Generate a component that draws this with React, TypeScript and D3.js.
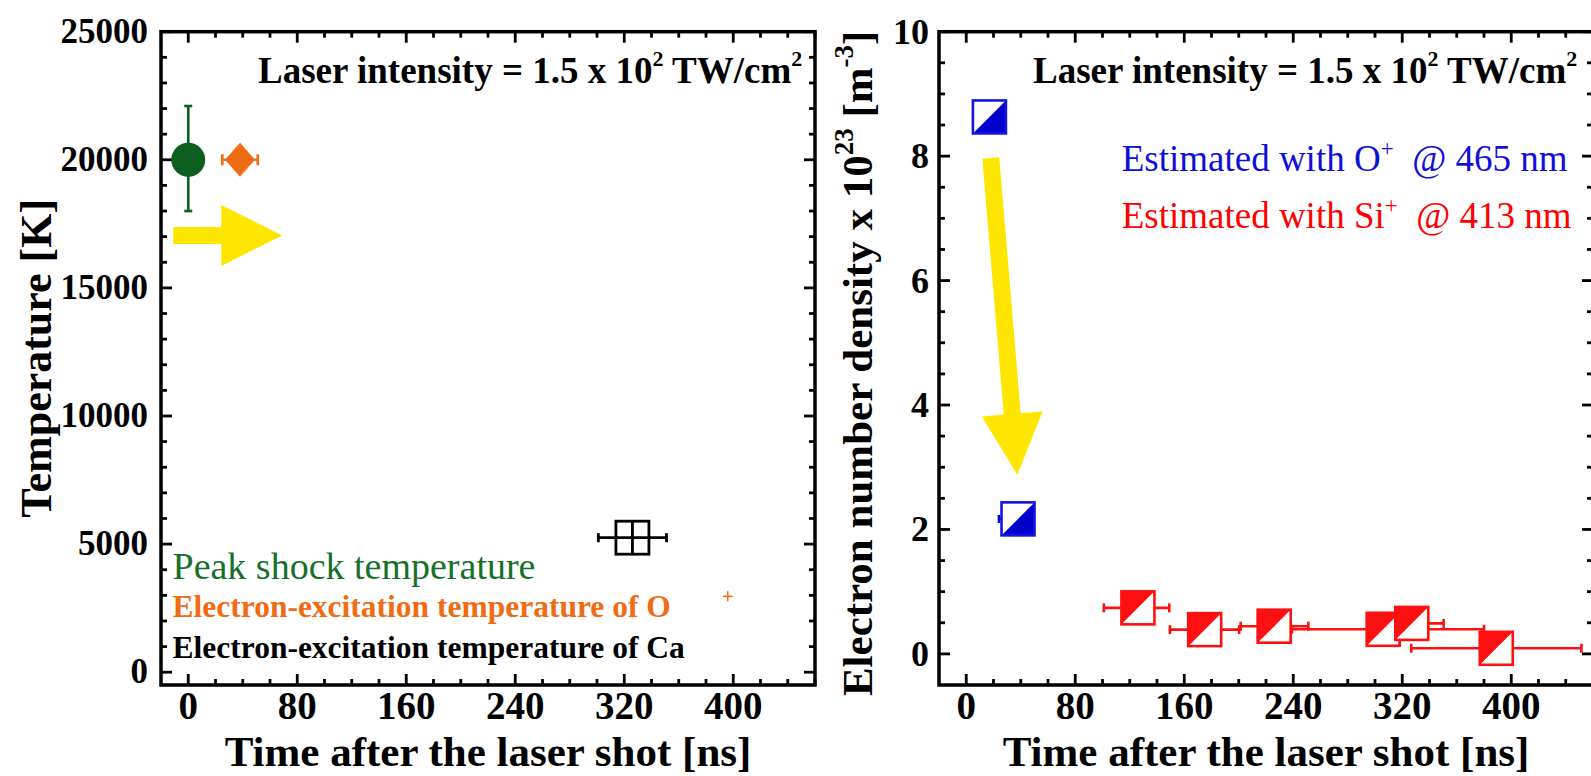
import React from "react";
import * as d3 from "d3";

// ---------- data ----------
const timeDomain: [number, number] = [-20, 460];
const timeTicks = [0, 80, 160, 240, 320, 400];
const tempDomain: [number, number] = [-500, 25000];
const tempTicks = [0, 5000, 10000, 15000, 20000, 25000];
const densDomain: [number, number] = [-0.5, 10];
const densTicks = [0, 2, 4, 6, 8, 10];

// left panel: temperatures
const peakTime = [0];
const peakTemp = [20000];
const peakTempErrLo = [2000];
const peakTempErrHi = [2100];

const oTime = [38];
const oTemp = [20000];
const oTimeErr = [13];

const caTime = [326];
const caTemp = [5250];
const caTimeErr = [25];

const oExtraTime = [396];
const oExtraTemp = [2960];

// right panel: electron density
const oIonTime = [17, 38];
const oIonDens = [8.63, 2.17];
const oIonErrLo = [0, 14];
const oIonErrHi = [0, 11];

const siIonTime = [126, 175, 226, 306, 327, 389];
const siIonDens = [0.74, 0.39, 0.445, 0.395, 0.49, 0.09];
const siIonErrLo = [25, 25.5, 24.6, 67, 23, 62.4];
const siIonErrHi = [23, 25.3, 25.1, 74, 23.4, 62.5];

// annotation arrows (data coordinates)
const leftArrow = { x1: -11, y1: 17050, x2: 69, y2: 17050 };
const rightArrow = { x1: 18, y1: 7.97, x2: 37.5, y2: 2.88 };

// ---------- styles ----------
const FONT = "'Liberation Serif', 'Times New Roman', Times, serif";
const GREEN = "#0c5f1f";
const GREEN_TXT = "#16702a";
const ORANGE = "#f06c14";
const BLUE = "#0000cc";
const BLUE_TXT = "#0f0fdc";
const RED = "#ff1010";
const YELLOW = "#ffe600";

const TOP = 31.7;
const BOTTOM = 685;
const LEFT = { x0: 161, x1: 815 };
const RIGHT = { x0: 939, x1: 1593 };

function arrowPath(ax: number, ay: number, bx: number, by: number) {
  const dx = bx - ax, dy = by - ay;
  const L = Math.hypot(dx, dy);
  const ux = dx / L, uy = dy / L;
  const nx = -uy, ny = ux;
  const shaft = 8.5, head = 30.5, headLen = 61;
  const hx = bx - ux * headLen, hy = by - uy * headLen;
  const pts = [
    [ax + nx * shaft, ay + ny * shaft],
    [hx + nx * shaft, hy + ny * shaft],
    [hx + nx * head, hy + ny * head],
    [bx, by],
    [hx - nx * head, hy - ny * head],
    [hx - nx * shaft, hy - ny * shaft],
    [ax - nx * shaft, ay - ny * shaft],
  ];
  return "M" + pts.map((p) => p.join(",")).join("L") + "Z";
}

function Frame({ x, y, minorX, minorY, majorX, majorY }: any) {
  const [x0, x1] = x.range();
  const [y1, y0] = y.range();
  const els: any[] = [];
  const MAJ = 11, MIN = 6;
  minorX.forEach((v: number, i: number) => {
    const px = x(v);
    const len = majorX(v) ? MAJ : MIN;
    els.push(<line key={"bx" + i} x1={px} x2={px} y1={y1} y2={y1 - len} />);
    els.push(<line key={"tx" + i} x1={px} x2={px} y1={y0} y2={y0 + len} />);
  });
  minorY.forEach((v: number, i: number) => {
    const py = y(v);
    const len = majorY(v) ? MAJ : MIN;
    els.push(<line key={"ly" + i} x1={x0} x2={x0 + len} y1={py} y2={py} />);
    els.push(<line key={"ry" + i} x1={x1} x2={x1 - len} y1={py} y2={py} />);
  });
  return (
    <g stroke="#000" strokeWidth={2.8}>
      {els}
      <rect x={x0} y={y0} width={x1 - x0} height={y1 - y0} fill="none" strokeWidth={3.5} />
    </g>
  );
}

function LaserText({ x }: { x: number }) {
  return (
    <text x={x} y={83} fontFamily={FONT} fontWeight="bold" fontSize={37} fill="#000">
      Laser intensity = 1.5 x 10
      <tspan dy={-17} fontSize={22}>2</tspan>
      <tspan dy={17}> TW/cm</tspan>
      <tspan dy={-17} fontSize={22}>2</tspan>
    </text>
  );
}

export default function App() {
  const xL = d3.scaleLinear().domain(timeDomain).range([LEFT.x0, LEFT.x1]);
  const xR = d3.scaleLinear().domain(timeDomain).range([RIGHT.x0, RIGHT.x1]);
  const yT = d3.scaleLinear().domain(tempDomain).range([BOTTOM, TOP]);
  const yD = d3.scaleLinear().domain(densDomain).range([BOTTOM, TOP]);

  const minorTime = d3.range(0, 461, 20);
  const minorTemp = d3.range(0, 25001, 1000);
  const minorDens = d3.range(0, 10.001, 0.5);

  const half = 16.5;

  return (
    <svg width={1591} height={776} style={{ position: "absolute", left: 0, top: 0, background: "#fff" }}>
      <rect width={1591} height={776} fill="#fff" />

      {/* ---------------- LEFT PANEL ---------------- */}
      <Frame
        x={xL}
        y={yT}
        minorX={minorTime}
        minorY={minorTemp}
        majorX={(v: number) => v % 80 === 0}
        majorY={(v: number) => v % 5000 === 0}
      />
      {tempTicks.map((v) => (
        <text key={"tl" + v} x={LEFT.x0 - 13} y={yT(v) + 11} textAnchor="end" fontFamily={FONT} fontWeight="bold" fontSize={35}>
          {v}
        </text>
      ))}
      {timeTicks.map((v) => (
        <text key={"xl" + v} x={xL(v)} y={719} textAnchor="middle" fontFamily={FONT} fontWeight="bold" fontSize={39}>
          {v}
        </text>
      ))}
      <text x={(LEFT.x0 + LEFT.x1) / 2} y={766} textAnchor="middle" fontFamily={FONT} fontWeight="bold" fontSize={43}>
        Time after the laser shot [ns]
      </text>
      <text
        transform={`translate(51,${(TOP + BOTTOM) / 2}) rotate(-90)`}
        textAnchor="middle"
        fontFamily={FONT}
        fontWeight="bold"
        fontSize={44}
      >
        Temperature [K]
      </text>
      <LaserText x={258} />

      {/* arrow */}
      <path d={arrowPath(xL(leftArrow.x1), yT(leftArrow.y1), xL(leftArrow.x2), yT(leftArrow.y2))} fill={YELLOW} />

      {/* peak shock temperature */}
      {peakTime.map((t, i) => {
        const cx = xL(t), cy = yT(peakTemp[i]);
        const yl = yT(peakTemp[i] - peakTempErrLo[i]), yh = yT(peakTemp[i] + peakTempErrHi[i]);
        return (
          <g key={"pk" + i}>
            <g stroke={GREEN} strokeWidth={2.6}>
              <line x1={cx} x2={cx} y1={yl} y2={yh} />
              <line x1={cx - 4} x2={cx + 4} y1={yl} y2={yl} />
              <line x1={cx - 4} x2={cx + 4} y1={yh} y2={yh} />
            </g>
            <circle cx={cx} cy={cy} r={17} fill={GREEN} />
          </g>
        );
      })}

      {/* O excitation temperature */}
      {oTime.map((t, i) => {
        const cx = xL(t), cy = yT(oTemp[i]);
        const xl = xL(t - oTimeErr[i]), xh = xL(t + oTimeErr[i]);
        return (
          <g key={"ot" + i}>
            <g stroke={ORANGE} strokeWidth={2.6}>
              <line x1={xl} x2={xh} y1={cy} y2={cy} />
              <line x1={xl} x2={xl} y1={cy - 5.5} y2={cy + 5.5} />
              <line x1={xh} x2={xh} y1={cy - 5.5} y2={cy + 5.5} />
            </g>
            <path d={`M${cx},${cy - 17}L${cx + 15},${cy}L${cx},${cy + 17}L${cx - 15},${cy}Z`} fill={ORANGE} />
            <line x1={cx + 1} y1={cy + 15} x2={cx + 13} y2={cy + 2} stroke="#f8a070" strokeWidth={1} />
          </g>
        );
      })}

      {/* Ca excitation temperature */}
      {caTime.map((t, i) => {
        const cx = xL(t), cy = yT(caTemp[i]);
        const xl = xL(t - caTimeErr[i]), xh = xL(t + caTimeErr[i]);
        return (
          <g key={"ca" + i} stroke="#000" strokeWidth={2.8}>
            <line x1={xl} x2={xh} y1={cy} y2={cy} />
            <line x1={xl} x2={xl} y1={cy - 4.5} y2={cy + 4.5} />
            <line x1={xh} x2={xh} y1={cy - 4.5} y2={cy + 4.5} />
            <rect x={cx - half} y={cy - half} width={half * 2} height={half * 2} fill="#fff" />
            <line x1={cx} x2={cx} y1={cy - half} y2={cy + half} />
            <line x1={cx - half} x2={cx + half} y1={cy} y2={cy} />
          </g>
        );
      })}

      {/* stray orange point */}
      {oExtraTime.map((t, i) => {
        const cx = xL(t), cy = yT(oExtraTemp[i]);
        return (
          <g key={"ox" + i} stroke={ORANGE} strokeWidth={1.5}>
            <line x1={cx - 5} x2={cx + 5} y1={cy} y2={cy} />
            <line x1={cx} x2={cx} y1={cy - 5} y2={cy + 5} />
          </g>
        );
      })}

      {/* legend text */}
      <text x={172.5} y={579} fontFamily={FONT} fontSize={38} fill={GREEN_TXT}>
        Peak shock temperature
      </text>
      <text x={172.5} y={617} fontFamily={FONT} fontWeight="bold" fontSize={31.5} fill={ORANGE}>
        Electron-excitation temperature of O
      </text>
      <text x={172.5} y={658} fontFamily={FONT} fontWeight="bold" fontSize={31.5} fill="#000">
        Electron-excitation temperature of Ca
      </text>

      {/* ---------------- RIGHT PANEL ---------------- */}
      <Frame
        x={xR}
        y={yD}
        minorX={minorTime}
        minorY={minorDens}
        majorX={(v: number) => v % 80 === 0}
        majorY={(v: number) => Math.abs(v % 2) < 1e-9}
      />
      {densTicks.map((v) => (
        <text key={"dl" + v} x={RIGHT.x0 - 10} y={yD(v) + 12} textAnchor="end" fontFamily={FONT} fontWeight="bold" fontSize={36}>
          {v}
        </text>
      ))}
      {timeTicks.map((v) => (
        <text key={"xr" + v} x={xR(v)} y={719} textAnchor="middle" fontFamily={FONT} fontWeight="bold" fontSize={39}>
          {v}
        </text>
      ))}
      <text x={(RIGHT.x0 + RIGHT.x1) / 2} y={766} textAnchor="middle" fontFamily={FONT} fontWeight="bold" fontSize={43}>
        Time after the laser shot [ns]
      </text>
      <text
        transform={`translate(872,${(TOP + BOTTOM) / 2 + 5}) rotate(-90)`}
        textAnchor="middle"
        fontFamily={FONT}
        fontWeight="bold"
        fontSize={43}
      >
        Electron number density x 10
        <tspan dy={-19} fontSize={27}>23</tspan>
        <tspan dy={19}> [m</tspan>
        <tspan dy={-19} fontSize={27}>-3</tspan>
        <tspan dy={19}>]</tspan>
      </text>
      <LaserText x={1033} />

      <text x={1121.7} y={170.7} fontFamily={FONT} fontSize={37} fill={BLUE_TXT}>
        Estimated with O<tspan dy={-15} fontSize={23}>+</tspan>
        <tspan dy={15}>{"\u00a0 @ 465 nm"}</tspan>
      </text>
      <text x={1121.7} y={228.3} fontFamily={FONT} fontSize={37} fill="#ff0000">
        Estimated with Si<tspan dy={-15} fontSize={23}>+</tspan>
        <tspan dy={15}>{"\u00a0 @ 413 nm"}</tspan>
      </text>

      {/* arrow */}
      <path d={arrowPath(xR(rightArrow.x1), yD(rightArrow.y1), xR(rightArrow.x2), yD(rightArrow.y2))} fill={YELLOW} />

      {/* error bars first */}
      {siIonTime.map((t, i) => {
        const cy = yD(siIonDens[i]);
        const xl = xR(t - siIonErrLo[i]), xh = xR(t + siIonErrHi[i]);
        return (
          <g key={"sie" + i} stroke={RED} strokeWidth={2.6}>
            <line x1={xl} x2={xh} y1={cy} y2={cy} />
            <line x1={xl} x2={xl} y1={cy - 4.5} y2={cy + 4.5} />
            <line x1={xh} x2={xh} y1={cy - 4.5} y2={cy + 4.5} />
          </g>
        );
      })}
      {oIonTime.map((t, i) => {
        if (!oIonErrLo[i] && !oIonErrHi[i]) return null;
        const cy = yD(oIonDens[i]);
        const xl = xR(t - oIonErrLo[i]), xh = xR(t + oIonErrHi[i]);
        return (
          <g key={"oie" + i} stroke={BLUE} strokeWidth={2.6}>
            <line x1={xl} x2={xh} y1={cy} y2={cy} />
            <line x1={xl} x2={xl} y1={cy - 4} y2={cy + 4} />
            <line x1={xh} x2={xh} y1={cy - 4} y2={cy + 4} />
          </g>
        );
      })}

      {/* O+ markers: lower-right half filled */}
      {oIonTime.map((t, i) => {
        const cx = xR(t), cy = yD(oIonDens[i]);
        return (
          <g key={"oi" + i}>
            <rect x={cx - half} y={cy - half} width={half * 2} height={half * 2} fill="#fff" />
            <path d={`M${cx + half},${cy - half}L${cx + half},${cy + half}L${cx - half},${cy + half}Z`} fill={BLUE} />
            <rect x={cx - half} y={cy - half} width={half * 2} height={half * 2} fill="none" stroke="#1414e6" strokeWidth={2.6} />
          </g>
        );
      })}

      {/* Si+ markers: upper-left half filled */}
      {siIonTime.map((t, i) => {
        const cx = xR(t), cy = yD(siIonDens[i]);
        return (
          <g key={"si" + i}>
            <rect x={cx - half} y={cy - half} width={half * 2} height={half * 2} fill="#fff" />
            <path d={`M${cx - half},${cy - half}L${cx + half},${cy - half}L${cx - half},${cy + half}Z`} fill={RED} />
            <rect x={cx - half} y={cy - half} width={half * 2} height={half * 2} fill="none" stroke={RED} strokeWidth={2.6} />
          </g>
        );
      })}
    </svg>
  );
}
